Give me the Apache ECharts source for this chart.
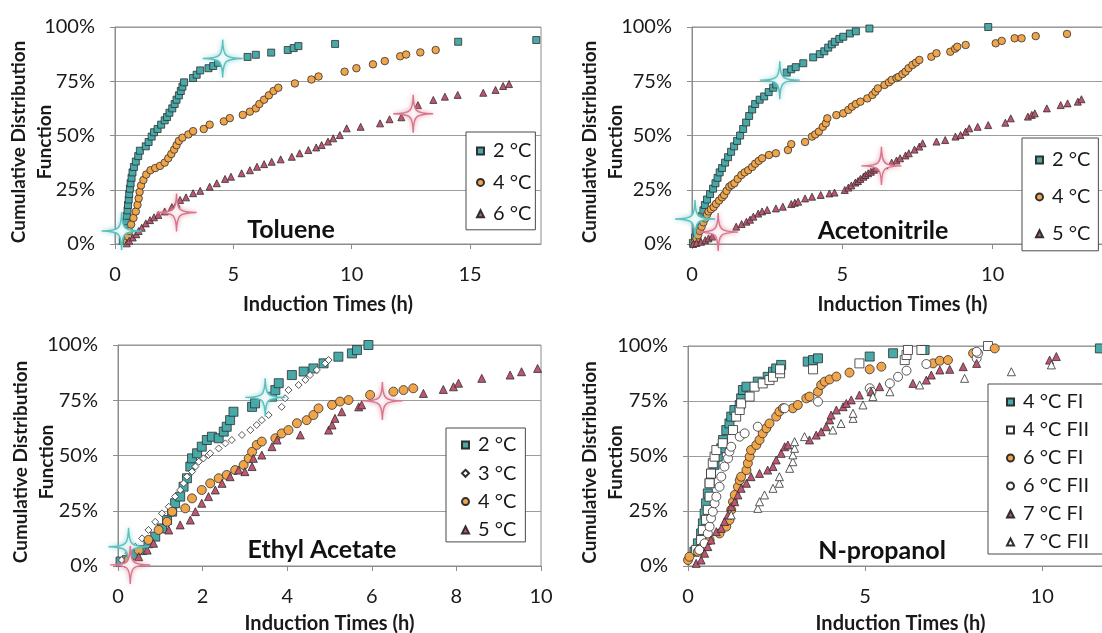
<!DOCTYPE html>
<html>
<head>
<meta charset="utf-8">
<script src="https://cdn.jsdelivr.net/npm/echarts/dist/echarts.min.js"></script>
<style>
  html, body { margin: 0; padding: 0; background: #ffffff; }
  #chart { width: 1102px; height: 633px; }
</style>
</head>
<body>
<div id="chart"></div>
<script>
// Cumulative distribution of induction times, [hours, percent]
const toluene2C = [[0.33,1.5],[0.38,3.5],[0.42,5.5],[0.45,8],[0.48,10.5],[0.5,13],[0.53,15.5],[0.55,18],[0.58,20.5],[0.6,23],[0.63,25.5],[0.66,28],[0.7,30.5],[0.74,33],[0.8,35.5],[0.88,38],[0.98,40.5],[1.05,43],[1.3,45],[1.42,47],[1.55,49.5],[1.65,51.5],[1.8,53],[1.95,55],[2.1,57],[2.2,58.5],[2.3,60.5],[2.42,62.5],[2.52,64.5],[2.6,66.5],[2.7,68.5],[2.78,70.5],[2.85,72.5],[2.92,74.5],[3.3,76.5],[3.45,78],[3.6,80],[3.95,81],[4.15,82],[4.35,83.5],[5.6,86.2],[5.95,87.2],[6.6,88.2],[7.3,89.4],[7.55,90.3],[7.75,91.2],[9.3,92.2],[14.5,93.2],[17.8,94]];
const toluene4C = [[0.5,1],[0.55,3.5],[0.6,6],[0.68,9],[0.78,12],[0.88,15],[0.95,18],[1.0,21],[1.04,24],[1.1,27],[1.2,29.5],[1.32,32],[1.5,34],[1.7,35],[1.9,36],[2.1,37.5],[2.25,39.5],[2.38,41.5],[2.5,43.5],[2.6,45.5],[2.7,47.5],[2.85,49],[3.1,50.5],[3.3,52],[3.75,53],[4.0,55],[4.6,56.5],[4.85,58],[5.4,59.5],[5.7,61],[5.95,62.5],[6.1,64.5],[6.3,66.5],[6.5,68.5],[6.7,70.5],[6.9,72],[7.6,74],[8.3,75.8],[8.6,77.2],[9.7,79.4],[10.2,81],[10.9,82.8],[11.4,84.3],[12.05,86.5],[12.3,87.3],[12.9,88.3],[13.55,89.4]];
const toluene6C = [[0.5,0.3],[0.6,1.5],[0.75,3],[0.9,4.5],[1.0,6],[1.13,7.5],[1.3,9.5],[1.48,11],[1.65,12.3],[1.83,13.4],[2.1,15],[2.4,17],[2.6,18.5],[2.75,20.3],[3.0,21.5],[3.3,23.4],[3.6,24.5],[4.0,26.4],[4.3,28],[4.65,30],[4.9,31],[5.35,32.6],[5.7,34],[6.0,35.6],[6.3,36.8],[6.62,37.9],[7.0,39],[7.47,40.2],[7.8,41.8],[8.17,43.3],[8.5,44.5],[8.73,45.6],[9.0,47.2],[9.22,48.7],[9.5,50.2],[9.79,53.3],[10.38,54],[11.2,55.6],[11.6,57.5],[12.1,58.4],[12.8,64],[13.45,66.4],[13.94,67.9],[14.48,68.7],[15.56,69.7],[16.08,71],[16.4,72.8],[16.65,73.7]];

const aceto2C = [[0.03,0.5],[0.1,3],[0.15,5.5],[0.22,8],[0.28,10.5],[0.33,13],[0.38,15.5],[0.43,18],[0.5,20.5],[0.6,23],[0.7,25.5],[0.78,28],[0.85,30.5],[0.92,33],[1.0,35],[1.1,37.5],[1.2,40],[1.3,42.5],[1.4,45],[1.5,47.5],[1.6,50],[1.7,53],[1.8,56],[1.9,59],[2.0,62],[2.1,64.5],[2.25,66.5],[2.4,68],[2.55,70],[2.7,72],[2.8,73.5],[3.15,79],[3.3,80.5],[3.45,81.5],[3.7,83.3],[4.03,86],[4.25,87.5],[4.4,88.8],[4.53,90.5],[4.65,92],[4.75,93.2],[4.9,94.5],[5.03,95.5],[5.25,97],[5.45,98],[5.9,99.3],[9.85,100]];
const aceto4C = [[0.09,1],[0.15,2.5],[0.2,4],[0.26,6],[0.32,8],[0.38,10],[0.44,11.8],[0.5,13.5],[0.55,15],[0.63,16],[0.72,17],[0.8,18.5],[0.9,20],[1.0,21.5],[1.07,22.6],[1.15,24.5],[1.24,26.4],[1.32,27.2],[1.41,28],[1.52,30],[1.64,31.8],[1.75,33],[1.87,34],[2.0,35.5],[2.1,37],[2.22,38.3],[2.33,39.5],[2.56,41],[2.79,41.8],[3.19,43.3],[3.3,46],[3.76,47],[3.99,49.5],[4.1,50.5],[4.22,51.8],[4.35,54],[4.45,55.6],[4.5,57.9],[4.8,59.4],[5.03,60.2],[5.2,61.8],[5.32,63.3],[5.45,64.5],[5.6,65.6],[5.83,67.1],[6.0,68.7],[6.1,70.2],[6.18,71.7],[6.4,73.3],[6.55,74.5],[6.64,75.6],[6.8,76.5],[6.87,77],[7.0,78.3],[7.1,79.4],[7.2,81],[7.33,82.5],[7.45,83.6],[7.56,84.8],[7.96,86.3],[8.13,87.9],[8.59,88.6],[8.75,90],[8.82,90.9],[9.1,91.7],[10.1,92.5],[10.3,93.6],[10.73,94.8],[10.96,94.8],[11.43,95.8],[12.47,96.8]];
const aceto5C = [[0.04,0],[0.15,0.5],[0.3,1],[0.44,1.8],[0.55,2.6],[0.67,3.4],[1.47,8],[1.65,9.2],[1.81,10.3],[1.93,11.2],[2.04,12.6],[2.2,14],[2.33,15],[2.5,15.7],[2.79,16.4],[3.02,17.2],[3.3,18.4],[3.42,19],[3.53,19.5],[3.76,21],[3.99,21.8],[4.28,22.6],[4.57,23.3],[4.74,23.7],[5.08,24.9],[5.2,26],[5.3,27],[5.43,28.3],[5.52,29],[5.6,30],[5.7,31],[5.77,31.8],[5.86,32.6],[5.95,33.3],[6.05,34.2],[6.12,34.9],[6.4,36.3],[6.64,37.5],[6.8,38.5],[6.92,39.5],[7.1,40.8],[7.21,41.8],[7.4,43.5],[7.56,44.9],[7.67,46.4],[8.13,47.2],[8.42,47.9],[8.76,49.5],[8.93,50.2],[9.1,51.8],[9.22,53.3],[9.5,54],[9.85,54.8],[10.42,55.9],[10.6,57.9],[11.17,58.7],[11.3,59.5],[11.4,60.2],[11.8,62.5],[12.26,64],[12.49,64.8],[12.83,65.6],[12.95,66.7]];

const ethyl2C = [[0.06,2],[0.21,2.7],[0.41,5],[0.57,7.2],[0.72,10.3],[0.88,13.3],[1.04,17],[1.16,20.8],[1.28,24.6],[1.35,28.4],[1.47,31.4],[1.55,35.9],[1.63,39.7],[1.71,45],[1.75,48.7],[1.87,51],[1.98,54],[2.1,57],[2.22,58.5],[2.38,57.8],[2.5,60.8],[2.57,63],[2.65,66],[2.73,69.8],[3.17,72],[3.24,73.6],[3.64,76.6],[3.72,79.6],[3.8,82.7],[4.11,86.4],[4.39,88],[4.62,89.4],[4.86,91.7],[5.21,94.7],[5.53,96.2],[5.65,97.7],[5.92,100]];
const ethyl3C = [[0.09,2.7],[0.25,5.7],[0.41,8.7],[0.57,12.5],[0.72,16.3],[0.88,20],[1.04,23.8],[1.2,26.8],[1.35,31.4],[1.47,34.4],[1.55,37.4],[1.63,40.4],[1.75,42.7],[1.83,45],[1.91,47.2],[2.02,48.7],[2.14,50.2],[2.18,51],[2.38,53.2],[2.54,55.5],[2.69,57],[2.93,59.3],[3.13,61.5],[3.28,63.8],[3.4,66],[3.56,68.3],[3.87,72],[3.95,75.9],[4.03,79.6],[4.27,81.9],[4.43,84.2],[4.54,86.4],[4.7,88.7],[4.9,91.7],[4.98,93.2]];
const ethyl4C = [[0.25,2.7],[0.49,7.2],[0.72,11.8],[0.96,16.3],[1.16,20],[1.28,24.6],[1.59,26.1],[1.75,30.6],[1.98,34.4],[2.18,37.4],[2.38,39.7],[2.57,41.2],[2.77,43.4],[2.97,45.7],[3.09,48.7],[3.17,51.7],[3.28,54.8],[3.4,56.3],[3.72,57.8],[3.87,60],[4.03,61.5],[4.23,64.6],[4.46,66],[4.62,68.3],[4.74,71.3],[5.06,72.9],[5.25,74.4],[5.45,75.1],[5.96,77.4],[6.51,78.9],[6.75,79.6],[6.98,80.4]];
const ethyl5C = [[0.25,1.2],[0.49,4.2],[0.69,7.2],[0.84,10.3],[1.2,16.3],[1.47,18.6],[1.71,20.8],[1.83,24.6],[1.98,28.4],[2.14,31.4],[2.3,34.4],[2.46,37.4],[2.65,40.4],[2.85,43.4],[3.0,42.7],[3.17,45],[3.2,48.7],[3.4,50.2],[3.64,54],[3.76,57],[4.31,59.3],[4.98,61.5],[5.06,63.8],[5.13,66.8],[5.29,69.8],[5.69,72],[5.76,72.9],[7.22,78.1],[7.69,79.9],[7.93,81.1],[8.05,82.7],[8.6,84.9],[9.27,86.4],[9.54,87.9],[9.92,89.4]];

const nprop4FI = [[0.18,6.5],[0.28,10.3],[0.37,14.8],[0.42,19.4],[0.47,23.9],[0.51,28.5],[0.56,33],[0.61,37.6],[0.65,42],[0.75,46],[0.84,49.7],[0.94,53.5],[0.99,57.3],[1.08,61.8],[1.17,64.8],[1.22,67.9],[1.31,70.9],[1.46,73.2],[1.5,76.2],[1.55,80],[1.65,81.5],[1.97,83.8],[2.25,86],[2.4,88.3],[2.49,89.8],[2.63,91.4],[3.38,92.9],[3.53,93.6],[3.67,94.4],[5.13,95.2],[5.79,96.7],[6.68,98.2],[11.63,98.9]];
const nprop4FII = [[0.23,7.3],[0.37,11.8],[0.42,16.4],[0.51,21],[0.56,25.5],[0.61,31.5],[0.61,37.6],[0.65,42],[0.7,46.7],[0.75,49.7],[0.8,52.7],[0.98,55.8],[1.27,61.8],[1.36,67.9],[1.46,70.9],[1.5,73.9],[1.74,77],[1.88,81.5],[2.11,83],[2.3,84.5],[2.4,86],[2.6,87.6],[2.6,89.4],[3.53,89.4],[4.84,92.1],[6.12,93.6],[6.17,95.9],[6.21,98.2],[6.59,98.2],[8.47,100]];
const nprop6FI = [[0,2.7],[0.04,4.2],[0.28,6.5],[0.42,8.8],[0.61,11.8],[0.89,14.8],[1.08,17.9],[1.17,20.9],[1.22,25.5],[1.27,29.2],[1.32,32.3],[1.41,36],[1.46,39],[1.5,40.6],[1.65,43.6],[1.69,46.7],[1.74,49.7],[1.78,52.7],[1.93,55],[2.02,57.3],[2.11,60.3],[2.21,62.6],[2.3,64.8],[2.49,67.9],[2.58,70.2],[2.68,71.7],[2.96,71.7],[3.1,73.2],[3.34,76.2],[3.43,77],[3.67,79.2],[3.76,82.3],[3.86,83.8],[4.0,84.8],[4.19,86.1],[4.56,87.9],[5.13,89.4],[5.46,90.6],[6.92,92.1],[7.11,93.3],[7.34,93.6],[8.05,96.7],[8.66,98.9]];
const nprop6FII = [[0.32,7.3],[0.47,10.3],[0.56,14.8],[0.61,17.9],[0.65,21.7],[0.7,24.7],[0.75,28.5],[0.8,31.5],[0.89,36],[0.94,40.6],[1.03,45.2],[1.13,48.9],[1.17,52],[1.22,54.2],[1.46,58.8],[1.6,60.3],[1.97,63.3],[2.73,71.7],[3.67,74.7],[5.13,80.8],[5.18,79.2],[5.7,83],[5.93,86],[6.17,88.8],[6.73,91.8],[8.15,94.4],[8.19,96.7],[8.15,97.4]];
const nprop7FI = [[0.23,1.2],[0.37,2.7],[0.47,5.8],[0.56,8.8],[0.65,11.8],[0.8,15.6],[0.94,17.1],[1.03,20.2],[1.13,23.2],[1.22,27],[1.32,29.2],[1.41,32.3],[1.5,35.3],[1.65,37.6],[1.78,40.6],[2.02,42.1],[2.25,43.6],[2.4,45.2],[2.49,48.2],[2.63,51.2],[2.73,54.2],[2.82,55],[3.43,57.3],[3.62,59.5],[3.76,61],[3.9,63.3],[4.0,66.4],[4.04,68.6],[4.19,70.9],[4.38,72.4],[4.47,73.9],[4.61,75.5],[4.84,77.7],[5.17,79.2],[5.41,81.5],[6.35,83],[6.73,84.5],[6.87,86.8],[7.11,89.1],[7.39,89.4],[7.77,90.6],[8.15,92.1],[10.21,93.6],[10.4,95.2]];
const nprop7FII = [[1.22,23.2],[1.97,26.2],[2.02,29.2],[2.16,32.3],[2.4,35.3],[2.58,37.6],[2.58,40.6],[2.87,44.4],[2.96,47.4],[2.96,50.5],[3.01,53.5],[3.01,56.5],[3.29,58.8],[4.09,61.8],[4.32,64.8],[4.66,67.1],[4.66,69.4],[4.94,73.2],[5.22,77],[5.7,79.2],[6.54,82.3],[7.81,85.3],[9.13,88.3],[10.26,91.4]];

// Highlighted reference points (sparkle markers)
const tolueneSparkTeal = [[0.28,6],[4.55,85.5]];
const tolueneSparkRose = [[2.6,14.5],[12.6,60]];
const acetoSparkTeal = [[0.1,11.5],[2.92,75.5]];
const acetoSparkRose = [[0.87,5.5],[6.3,36]];
const ethylSparkTeal = [[0.25,8.7],[3.48,76.3]];
const ethylSparkRose = [[0.29,0.5],[6.25,74.7]];

// Axis settings
const xMaxima = [18, 14, 10, 12];
const xSteps = [5, 5, 2, 5];
const yTickStep = 25;
const panelTitles = ['Toluene', 'Acetonitrile', 'Ethyl Acetate', 'N-propanol'];

const FONT = 'Lato, "Open Sans", sans-serif';
const INK = '#1a1a1a';
const FRAME = '#8c8c8c';

const TEAL = '#47a9a8';
const ORANGE = '#f0a54a';
const ROSE = '#bf5570';
const EDGE = '#2f2f2f';

const grids = [
  { left: 115, top: 27, width: 426, height: 217 },
  { left: 692, top: 27, width: 421, height: 217 },
  { left: 118, top: 345, width: 423, height: 221 },
  { left: 688, top: 346, width: 425, height: 220 }
].map(g => Object.assign(g, {
  show: true, borderColor: FRAME, borderWidth: 1,
  containLabel: false, outerBoundsMode: 'none'
}));

const xNameGaps = [51, 51, 48, 48];
const yNameGaps = [57, 63, 58.5, 59];

const xAxes = xMaxima.map((mx, i) => ({
  type: 'value', gridIndex: i, min: 0, max: mx, interval: xSteps[i],
  axisLine: { show: true, lineStyle: { color: FRAME, width: 1 } },
  axisTick: { show: true, length: 5, lineStyle: { color: FRAME } },
  splitLine: { show: false },
  axisLabel: { color: INK, fontSize: 20, fontFamily: FONT, margin: 21, showMaxLabel: mx % xSteps[i] === 0 },
  name: 'Induction Times (h)', nameLocation: 'middle', nameGap: xNameGaps[i],
  nameTextStyle: { color: INK, fontSize: 20, fontWeight: 'bold', fontFamily: FONT }
}));

const yAxes = xMaxima.map((mx, i) => ({
  type: 'value', gridIndex: i, min: 0, max: 100, interval: yTickStep,
  axisLine: { show: true, lineStyle: { color: FRAME, width: 1 } },
  axisTick: { show: true, length: 5, lineStyle: { color: FRAME } },
  splitLine: { show: true, lineStyle: { color: '#9c9c9c', width: 1 } },
  axisLabel: { color: INK, fontSize: 20, fontFamily: FONT, margin: 20, formatter: '{value}%' },
  name: 'Cumulative Distribution\nFunction', nameLocation: 'middle', nameGap: yNameGaps[i],
  nameMoveOverlap: false,
  nameTextStyle: { color: INK, fontSize: 19, fontWeight: 'bold', fontFamily: FONT, lineHeight: 26, padding: [0, 13, 0, 0] }
}));

function dots(name, data, panel, symbol, size, fill) {
  return {
    type: 'scatter', name, data, xAxisIndex: panel, yAxisIndex: panel,
    symbol, symbolSize: size, z: 3,
    itemStyle: { color: fill, borderColor: EDGE, borderWidth: 0.8, opacity: 1 },
    emphasis: { disabled: true }
  };
}

const SPARK = 'path://M0,-1 C0.02,-0.1 0.1,-0.02 1,0 C0.1,0.02 0.02,0.1 0,1 C-0.02,0.1 -0.1,0.02 -1,0 C-0.1,-0.02 -0.02,-0.1 0,-1 Z';
function sparks(name, data, panel, stroke, glow) {
  return {
    type: 'scatter', name, data, xAxisIndex: panel, yAxisIndex: panel,
    symbol: SPARK, symbolSize: [40, 38], z: 10, clip: false,
    itemStyle: { color: '#ffffff', borderColor: stroke, borderWidth: 1.4, shadowBlur: 5, shadowColor: glow, opacity: 1 },
    emphasis: { disabled: true }
  };
}

const WHITE = '#ffffff';
const series = [
  dots('2 °C', toluene2C, 0, 'rect', 7, TEAL),
  dots('4 °C', toluene4C, 0, 'circle', 7.5, ORANGE),
  dots('6 °C', toluene6C, 0, 'triangle', 7, ROSE),
  dots('2 °C', aceto2C, 1, 'rect', 7, TEAL),
  dots('4 °C', aceto4C, 1, 'circle', 7.5, ORANGE),
  dots('5 °C', aceto5C, 1, 'triangle', 7, ROSE),
  dots('2 °C', ethyl2C, 2, 'rect', 9, TEAL),
  dots('3 °C', ethyl3C, 2, 'diamond', 7, WHITE),
  dots('4 °C', ethyl4C, 2, 'circle', 9, ORANGE),
  dots('5 °C', ethyl5C, 2, 'triangle', 8, ROSE),
  dots('4 °C FI', nprop4FI, 3, 'rect', 9, TEAL),
  dots('4 °C FII', nprop4FII, 3, 'rect', 9, WHITE),
  dots('6 °C FI', nprop6FI, 3, 'circle', 9, ORANGE),
  dots('6 °C FII', nprop6FII, 3, 'circle', 9, WHITE),
  dots('7 °C FI', nprop7FI, 3, 'triangle', 8, ROSE),
  dots('7 °C FII', nprop7FII, 3, 'triangle', 8, WHITE),
  sparks('Toluene spark teal', tolueneSparkTeal, 0, '#5cc0bf', 'rgba(92,192,191,0.6)'),
  sparks('Toluene spark rose', tolueneSparkRose, 0, '#d8768e', 'rgba(216,118,142,0.6)'),
  sparks('Acetonitrile spark teal', acetoSparkTeal, 1, '#5cc0bf', 'rgba(92,192,191,0.6)'),
  sparks('Acetonitrile spark rose', acetoSparkRose, 1, '#d8768e', 'rgba(216,118,142,0.6)'),
  sparks('Ethyl acetate spark teal', ethylSparkTeal, 2, '#5cc0bf', 'rgba(92,192,191,0.6)'),
  sparks('Ethyl acetate spark rose', ethylSparkRose, 2, '#d8768e', 'rgba(216,118,142,0.6)')
];

function legendBox(names, left, top, padding, gap) {
  return {
    data: names, orient: 'vertical', left, top, padding, itemGap: gap,
    itemWidth: 7, itemHeight: 7, selectedMode: false,
    borderColor: '#4a4a4a', borderWidth: 1, backgroundColor: '#ffffff',
    textStyle: { color: INK, fontSize: 20, lineHeight: 20, fontFamily: FONT, padding: [0, 0, 0, 4] }
  };
}

const legends = [
  legendBox(['2 °C', '4 °C', '6 °C'], 466, 132, [9, 4, 6, 10], 11.4),
  legendBox(['2 °C', '4 °C', '5 °C'], 1022, 138, [12, 8, 7, 13], 16.9),
  legendBox(['2 °C', '3 °C', '4 °C', '5 °C'], 446, 428, [7, 9, 2, 15], 8.3),
  legendBox(['4 °C FI', '4 °C FII', '6 °C FI', '6 °C FII', '7 °C FI', '7 °C FII'], 988, 384, [8, 20, 2, 18], 8)
];

const titlePos = [[291, 230], [883, 231], [322, 550], [882, 551]];
const graphics = panelTitles.map((t, i) => ({
  type: 'text', x: titlePos[i][0], y: titlePos[i][1], z: 20,
  style: { text: t, fill: '#111', font: 'bold 25px ' + FONT, textAlign: 'center', textVerticalAlign: 'middle' }
}));

const chart = echarts.init(document.getElementById('chart'), null, { renderer: 'canvas' });
chart.setOption({
  animation: false,
  backgroundColor: '#ffffff',
  textStyle: { fontFamily: FONT },
  grid: grids,
  xAxis: xAxes,
  yAxis: yAxes,
  legend: legends,
  tooltip: { show: false },
  graphic: graphics,
  series
});
</script>
</body>
</html>
